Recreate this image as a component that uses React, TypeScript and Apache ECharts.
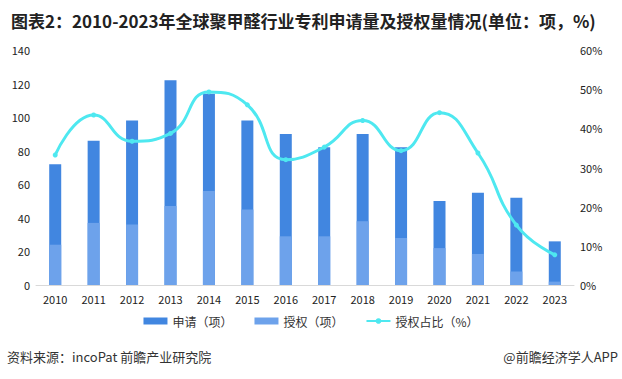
import React, { useEffect, useRef } from "react";
import * as echarts from "echarts";

const years = ["2010","2011","2012","2013","2014","2015","2016","2017","2018","2019","2020","2021","2022","2023"];
const applications = [72, 86, 98, 122, 114, 98, 90, 82, 90, 82, 50, 55, 52, 26];
const grants = [24, 37, 36, 47, 56, 45, 29, 29, 38, 28, 22, 18.5, 8, 2];
const grantRatio = [33.2, 43.4, 36.7, 38.7, 49.3, 46.0, 32.0, 35.2, 42.0, 34.3, 44.0, 33.7, 15.3, 7.7];

const titleText = "图表2：2010-2023年全球聚甲醛行业专利申请量及授权量情况(单位：项，%)";
const sourceText = "资料来源：incoPat 前瞻产业研究院";
const brandText = "@前瞻经济学人APP";

export default function App() {
  const ref = useRef<HTMLDivElement>(null);
  useEffect(() => {
    if (!ref.current) return;
    const chart = echarts.init(ref.current, null, { renderer: "svg" });
    const font = "'Noto Sans CJK SC', 'Noto Sans', sans-serif";
    chart.setOption({
      animation: false,
      backgroundColor: "#ffffff",
      textStyle: { fontFamily: font },
      title: {
        text: titleText,
        left: 6,
        top: 7,
        textStyle: { fontSize: 17, fontWeight: "bold", color: "#222", fontFamily: font },
      },
      graphic: [
        { type: "text", left: 7, top: 350, style: { text: sourceText, fontSize: 13, fill: "#333", fontFamily: font } },
        { type: "text", right: 4, top: 350, style: { text: brandText, fontSize: 13, fill: "#333", fontFamily: font } },
      ],
      legend: {
        bottom: 47,
        left: "center",
        itemWidth: 24,
        itemHeight: 7,
        itemGap: 22,
        textStyle: { fontSize: 12, color: "#333" },
        data: [
          { name: "申请（项）", icon: "rect" },
          { name: "授权（项）", icon: "rect" },
          { name: "授权占比（%）" },
        ],
      },
      grid: { left: 36, right: 48, top: 50, bottom: 94, containLabel: false },
      xAxis: {
        type: "category",
        data: years,
        axisLine: { lineStyle: { color: "#d9d9d9" } },
        axisTick: { show: false },
        axisLabel: { color: "#222", fontSize: 11, margin: 8 },
      },
      yAxis: [
        {
          type: "value",
          min: 0,
          max: 140,
          interval: 20,
          axisLine: { show: false },
          axisTick: { show: false },
          splitLine: { show: false },
          axisLabel: { color: "#222", fontSize: 11, margin: 6 },
        },
        {
          type: "value",
          min: 0,
          max: 60,
          interval: 10,
          axisLine: { show: false },
          axisTick: { show: false },
          splitLine: { show: false },
          axisLabel: { color: "#222", fontSize: 11, margin: 6, formatter: "{value}%" },
        },
      ],
      series: [
        {
          name: "申请（项）",
          type: "bar",
          data: applications,
          barWidth: 12,
          itemStyle: { color: "#4186e0" },
        },
        {
          name: "授权（项）",
          type: "bar",
          data: grants,
          barWidth: 12,
          barGap: "-100%",
          itemStyle: { color: "#6da2eb" },
        },
        {
          name: "授权占比（%）",
          type: "line",
          yAxisIndex: 1,
          data: grantRatio,
          smooth: true,
          symbol: "circle",
          symbolSize: 5,
          lineStyle: { color: "#4ee8f0", width: 3 },
          itemStyle: { color: "#4ee8f0" },
        },
      ],
    });
    return () => chart.dispose();
  }, []);
  return <div ref={ref} style={{ width: 622, height: 379, position: "absolute", left: 0, top: 0 }} />;
}
